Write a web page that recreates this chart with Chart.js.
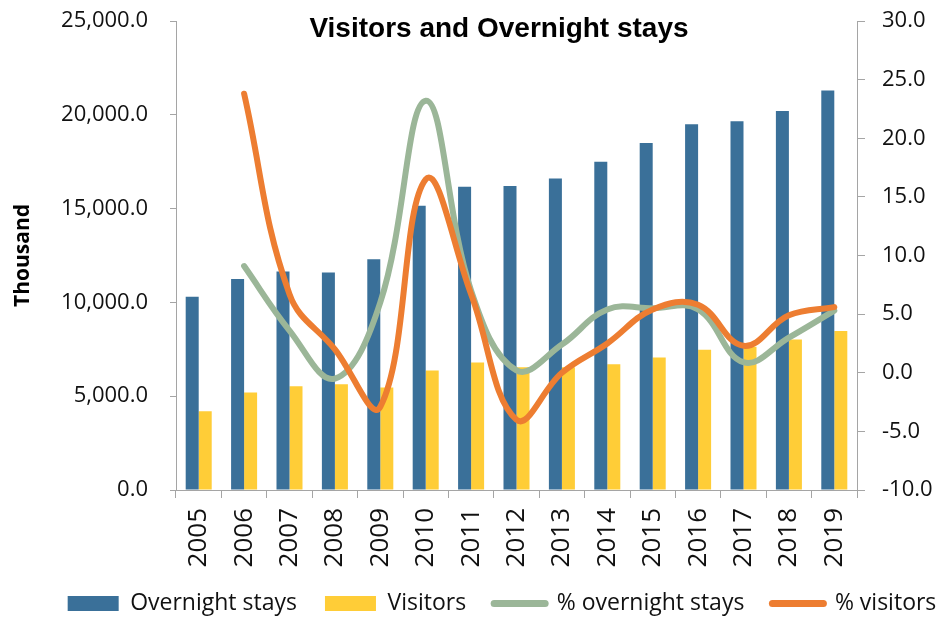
<!DOCTYPE html>
<html>
<head>
<meta charset="utf-8">
<script src="https://cdn.jsdelivr.net/npm/chart.js@4"></script>
<style>html,body{margin:0;padding:0;background:#fff;}</style>
</head>
<body>
<canvas id="c" width="938" height="617"></canvas>
<script>
const categories = ['2005','2006','2007','2008','2009','2010','2011','2012','2013','2014','2015','2016','2017','2018','2019'];
const overnightStays = [10300, 11250, 11650, 11600, 12300, 15150, 16170, 16200, 16600, 17500, 18500, 19500, 19650, 20200, 21300];
const visitors = [4200, 5200, 5530, 5640, 5470, 6370, 6800, 6540, 6540, 6700, 7060, 7470, 7640, 8020, 8470];
const pctOvernightStays = [null, 9.1, 3.6, -0.5, 6.0, 23.2, 7.0, 0.2, 2.4, 5.4, 5.5, 5.4, 0.9, 3.0, 5.3];
const pctVisitors = [null, 23.8, 6.7, 2.0, -2.9, 16.5, 6.7, -4.0, 0.0, 2.5, 5.4, 5.8, 2.3, 4.9, 5.6];
const leftTicks = [0, 5000, 10000, 15000, 20000, 25000];
const rightTicks = [-10, -5, 0, 5, 10, 15, 20, 25, 30];
const chartTitle = 'Visitors and Overnight stays';
const leftAxisTitle = 'Thousand';
const seriesNames = ['Overnight stays', 'Visitors', '% overnight stays', '% visitors'];

const BLUE = '#3A7099', YELLOW = '#FFCD37', GREEN = '#9BB698', ORANGE = '#ED7D31';
const AXIS = '#A5A5A5', TXT = '#111111';
const fmt1 = v => Number(v).toLocaleString('en-US', {minimumFractionDigits: 1, maximumFractionDigits: 1});

const titlePlugin = {
  id: 'customTitle',
  afterDraw(chart) {
    const ctx = chart.ctx;
    ctx.save();
    ctx.font = 'bold 28px "Liberation Sans", Arial, sans-serif';
    ctx.fillStyle = '#000';
    ctx.textAlign = 'center';
    ctx.textBaseline = 'middle';
    ctx.fillText(chartTitle, 499, 29);
    ctx.restore();
  }
};

const layoutTweak = {
  id: 'layoutTweak',
  afterLayout(chart) {
    const lg = chart.legend;
    if (lg && lg.lineWidths) {
      const p = lg.options.labels.padding;
      const start = (lg.left + p + lg.right - lg.lineWidths[0]) / 2;
      const center = start + (lg.lineWidths[0] - p) / 2;
      const dx = 502 - center;
      lg.left += dx; lg.right += dx;
      lg.top += 8; lg.bottom += 8;
    }
    // let the rotated category labels run below the axis box without being clipped
    chart.scales.x.bottom = chart.height;
  }
};

function fitVertical(width) {
  return function (s) {
    s.width = width;
    s.paddingTop = 0;
    s.paddingBottom = 0;
  };
}

new Chart(document.getElementById('c'), {
  data: {
    labels: categories,
    datasets: [
      { type: 'bar', label: seriesNames[0], data: overnightStays, backgroundColor: BLUE, yAxisID: 'y', order: 2,
        categoryPercentage: 0.573, barPercentage: 1.0 },
      { type: 'bar', label: seriesNames[1], data: visitors, backgroundColor: YELLOW, yAxisID: 'y', order: 2,
        categoryPercentage: 0.573, barPercentage: 1.0 },
      { type: 'line', label: seriesNames[2], data: pctOvernightStays, borderColor: GREEN, backgroundColor: GREEN,
        borderWidth: 6, pointRadius: 0, tension: 0.4, yAxisID: 'y1', order: 1,
        borderCapStyle: 'round', borderJoinStyle: 'round', fill: false },
      { type: 'line', label: seriesNames[3], data: pctVisitors, borderColor: ORANGE, backgroundColor: ORANGE,
        borderWidth: 6, pointRadius: 0, tension: 0.4, yAxisID: 'y1', order: 0,
        borderCapStyle: 'round', borderJoinStyle: 'round', fill: false }
    ]
  },
  options: {
    responsive: false,
    animation: false,
    devicePixelRatio: 1,
    layout: { padding: { top: 21, left: 0, right: 0, bottom: 0 } },
    plugins: {
      tooltip: { enabled: false },
      title: { display: false },
      legend: {
        position: 'bottom',
        labels: {
          usePointStyle: true,
          pointStyleWidth: 51,
          boxHeight: 15,
          padding: 28,
          color: TXT,
          font: { family: '"Open Sans", sans-serif', size: 23 },
          generateLabels(chart) {
            return chart.data.datasets.map((ds, i) => {
              const isLine = ds.type === 'line';
              return {
                text: ds.label,
                datasetIndex: i,
                fillStyle: isLine ? ds.borderColor : ds.backgroundColor,
                strokeStyle: isLine ? ds.borderColor : ds.backgroundColor,
                lineWidth: isLine ? 7 : 0,
                lineCap: 'round',
                pointStyle: isLine ? 'line' : 'rect',
                hidden: !chart.isDatasetVisible(i),
                fontColor: TXT
              };
            });
          }
        }
      }
    },
    scales: {
      x: {
        type: 'category',
        offset: true,
        grid: { offset: true, drawOnChartArea: false, drawTicks: true, tickLength: 8, color: AXIS },
        border: { color: AXIS },
        ticks: { autoSkip: false, minRotation: 90, maxRotation: 90, padding: 10, color: TXT,
                 font: { family: '"Open Sans", sans-serif', size: 26 } },
        afterFit(s) { s.height = 66; }
      },
      y: {
        type: 'linear',
        position: 'left',
        min: 0, max: 25000,
        afterBuildTicks(s) { s.ticks = leftTicks.map(v => ({ value: v })); },
        grid: { drawOnChartArea: false, drawTicks: true, tickLength: 6, color: AXIS },
        border: { color: AXIS },
        ticks: { padding: 22, color: TXT, font: { family: '"Open Sans", sans-serif', size: 22 },
                 callback: v => fmt1(v) },
        title: { display: true, text: leftAxisTitle, color: '#000',
                 font: { family: '"Open Sans", sans-serif', size: 21, weight: 'bold' },
                 padding: { top: 10, bottom: 0 } },
        afterFit: fitVertical(176)
      },
      y1: {
        type: 'linear',
        position: 'right',
        min: -10, max: 30,
        afterBuildTicks(s) { s.ticks = rightTicks.map(v => ({ value: v })); },
        grid: { drawOnChartArea: false, drawTicks: true, tickLength: 8, color: AXIS },
        border: { color: AXIS },
        ticks: { padding: 17, color: TXT, font: { family: '"Open Sans", sans-serif', size: 22 },
                 callback: v => fmt1(v) },
        afterFit: fitVertical(81)
      }
    }
  },
  plugins: [titlePlugin, layoutTweak]
});
</script>
</body>
</html>
